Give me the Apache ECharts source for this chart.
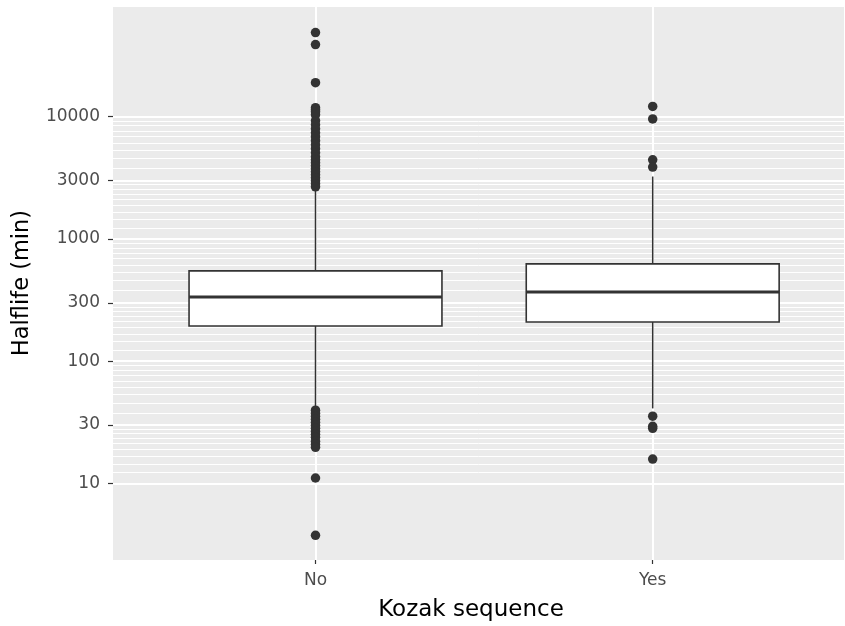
<!DOCTYPE html>
<html><head><meta charset="utf-8">
<script src="https://cdn.jsdelivr.net/npm/echarts@6/dist/echarts.min.js"></script>
<style>html,body{margin:0;padding:0;background:#fff}#c{width:845px;height:626px}</style>
</head><body><div id="c"></div>
<script>
const categories = ['No', 'Yes'];
const whiskerLow = [41, 41];
const q1 = [194, 209];
const median = [335, 368];
const q3 = [547, 624];
const whiskerHigh = [2550, 3240];
const outliersNo = [48800, 38900, 19000, 11860, 11400, 10990, 10380, 9270, 8590, 7970, 7390, 6860, 6360, 5890, 5470, 5070, 4700, 4440, 4200, 3960, 3750, 3540, 3350, 3160, 2990, 2820, 2670,
  39.7, 37.5, 35.4, 33.5, 31.6, 29.9, 28.2, 26.7, 25.2, 23.8, 22.1, 20.9, 19.7, 11.05, 3.75];
const outliersYes = [12140, 9580, 4440, 3870, 35.4, 29.3, 28.2, 15.8];
const yTicks = [10, 30, 100, 300, 1000, 3000, 10000];
const yTickLabels = ['10', '30', '100', '300', '1000', '3000', '10000'];
const yMin = 2.357, yMax = 79000;

// ggplot-style minor breaks: 8 lines evenly spaced between consecutive major breaks
const minorLines = [];
for (let i = 0; i < yTicks.length - 1; i++) {
  const a = yTicks[i], b = yTicks[i + 1];
  for (let k = 1; k < 9; k++) minorLines.push(a + (b - a) * k / 9);
}

const chart = echarts.init(document.getElementById('c'));
const FONT = 'DejaVu Sans';
const INK = '#333333';

chart.setOption({
  animation: false,
  grid: [
    {left: 113, right: 1, top: 7, bottom: 66, show: true, backgroundColor: '#EBEBEB', borderWidth: 0},
    {left: 315.5, right: 192.3, top: 7, bottom: 66}
  ],
  xAxis: [
    {gridIndex: 0, type: 'value', min: 0, max: 1, show: false},
    {gridIndex: 1, type: 'category', data: categories, boundaryGap: false,
     axisLine: {show: false},
     axisTick: {show: true, length: 4, lineStyle: {color: INK, width: 1.2}},
     axisLabel: {color: '#4D4D4D', fontSize: 17, fontFamily: FONT, margin: 12},
     splitLine: {show: false}}
  ],
  yAxis: [
    {gridIndex: 0, type: 'log', logBase: 10, min: yMin, max: yMax,
     axisLine: {show: false},
     splitLine: {show: false},
     minorSplitLine: {show: false},
     axisTick: {show: true, length: 5, customValues: yTicks, lineStyle: {color: INK, width: 1.2}},
     axisLabel: {show: true, customValues: yTicks, color: '#4D4D4D', fontSize: 17, fontFamily: FONT, margin: 13,
       formatter: function (v) {
         const i = yTicks.findIndex(t => Math.abs(Math.log10(t) - Math.log10(v)) < 1e-4);
         return i >= 0 ? yTickLabels[i] : '';
       }}},
    {gridIndex: 1, type: 'log', logBase: 10, min: yMin, max: yMax, show: false}
  ],
  graphic: [
    {type: 'text', x: 471, y: 610, style: {text: 'Kozak sequence', x: 0, y: 0, fill: '#000', font: '23px "DejaVu Sans"', textAlign: 'center', textVerticalAlign: 'middle'}},
    {type: 'text', x: 22, y: 283, rotation: Math.PI / 2, style: {text: 'Halflife (min)', x: 0, y: 0, fill: '#000', font: '22.5px "DejaVu Sans"', textAlign: 'center', textVerticalAlign: 'middle'}}
  ],
  series: [
    {type: 'line', xAxisIndex: 0, yAxisIndex: 0, data: [[0, 10]], symbol: 'none', lineStyle: {opacity: 0}, silent: true, z: 1,
     markLine: {silent: true, z: 1, symbol: ['none', 'none'], label: {show: false}, animation: false,
       lineStyle: {color: '#FFFFFF', width: 1, type: 'solid', opacity: 1},
       data: minorLines.map(v => ({yAxis: v})).concat(yTicks.map(v => ({yAxis: v, lineStyle: {width: 2, color: '#FFFFFF', type: 'solid'}})))}},
    {type: 'scatter', xAxisIndex: 1, yAxisIndex: 1, data: [], silent: true, z: 1,
     markLine: {silent: true, z: 1, symbol: ['none', 'none'], label: {show: false}, animation: false,
       lineStyle: {color: '#FFFFFF', width: 2, type: 'solid', opacity: 1},
       data: categories.map((c, i) => ({xAxis: i}))}},
    {type: 'custom', xAxisIndex: 1, yAxisIndex: 1, z: 3, silent: true,
     data: categories.map((c, i) => [i, whiskerLow[i], q1[i], median[i], q3[i], whiskerHigh[i]]),
     encode: {x: 0, y: [1, 2, 3, 4, 5]},
     renderItem: function (params, api) {
       const x = api.value(0);
       const lo = api.coord([x, api.value(1)]);
       const b1 = api.coord([x, api.value(2)]);
       const md = api.coord([x, api.value(3)]);
       const b3 = api.coord([x, api.value(4)]);
       const hi = api.coord([x, api.value(5)]);
       const w = api.size([1, 0])[0] * 0.75;
       return {type: 'group', children: [
         {type: 'line', shape: {x1: lo[0], y1: lo[1], x2: b1[0], y2: b1[1]}, style: {stroke: INK, lineWidth: 1.5}},
         {type: 'line', shape: {x1: hi[0], y1: hi[1], x2: b3[0], y2: b3[1]}, style: {stroke: INK, lineWidth: 1.5}},
         {type: 'rect', shape: {x: b1[0] - w / 2, y: b3[1], width: w, height: b1[1] - b3[1]}, style: {fill: '#FFFFFF', stroke: INK, lineWidth: 1.6}},
         {type: 'line', shape: {x1: md[0] - w / 2, y1: md[1], x2: md[0] + w / 2, y2: md[1]}, style: {stroke: INK, lineWidth: 3}}
       ]};
     }},
    {type: 'scatter', xAxisIndex: 1, yAxisIndex: 1, z: 4, silent: true, symbolSize: 9.5,
     itemStyle: {color: INK, opacity: 1},
     data: outliersNo.map(v => [0, v]).concat(outliersYes.map(v => [1, v]))}
  ]
});
</script>
</body></html>
